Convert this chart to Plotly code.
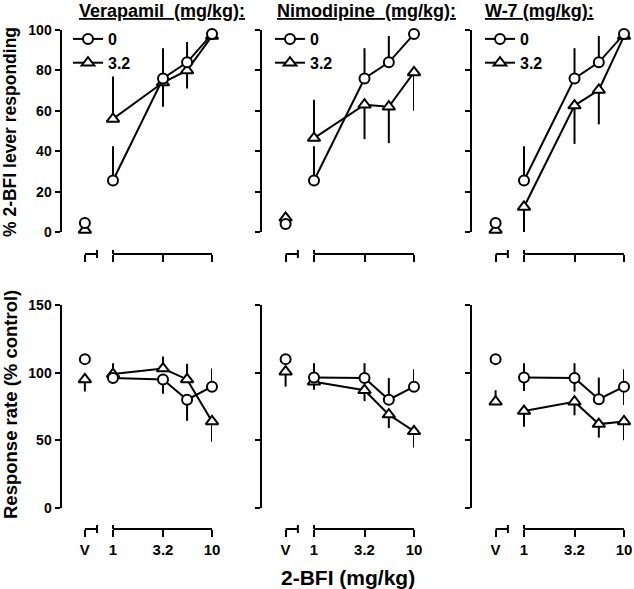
import plotly.graph_objects as go

W, H = 634, 589

# ---------------- data ----------------
titles = ["Verapamil\u00a0\u00a0(mg/kg):", "Nimodipine\u00a0\u00a0(mg/kg):", "W-7 (mg/kg):"]
doses = [1, 3.2, 5.6, 10]
V_X = 0.52          # position used for the vehicle (V) point
V_BREAK = 0.69      # end of the short vehicle axis segment
x_tickvals = [V_X, 1, 3.2, 10]
x_ticktext = ["V", "1", "3.2", "10"]
legend_names = ["0", "3.2"]

# top row: % 2-BFI lever responding
top_ctrl_v = [4.4, 4.0, 4.4]
top_ctrl = [[25.5, 76, 84, 98], [25.5, 76, 84, 98], [25.5, 76, 84, 98]]
top_ctrl_up = [[17, 15, 10, 0], [17, 15, 13, 0], [17, 15, 13, 0]]
top_ctrl_dn = [[0, 0, 0, 0], [0, 0, 0, 0], [0, 0, 0, 0]]
top_drug_v = [1.0, 7.0, 1.0]
top_drug = [[56, 74, 80, 97], [46.5, 63, 62, 79], [12.4, 62.6, 70.3, 97]]
top_drug_up = [[21, 0, 0, 0], [19, 0, 0, 0], [0, 0, 0, 0]]
top_drug_dn = [[0, 12, 9, 0], [0, 17, 18, 19], [12.4, 19, 17, 0]]

# bottom row: response rate (% control)
bot_ctrl_v = [110, 110, 110]
bot_ctrl = [[96, 95, 80, 89.6], [96.5, 96, 80, 89.6], [96.5, 96, 80.4, 89.6]]
bot_ctrl_up = [[0, 0, 0, 13.5], [10.5, 11, 16, 13], [10.5, 11, 16, 13]]
bot_ctrl_dn = [[0, 10.5, 15.5, 0], [0, 0, 0, 0], [10, 10, 0, 13.5]]
bot_drug_v = [95, 100.7, 78.5]
bot_drug_v_up = [0, 0, 8.5]
bot_drug_v_dn = [9, 11, 0]
bot_drug = [[99, 103, 95, 64], [93.3, 87, 69, 56.7], [71.6, 78.5, 62, 64]]
bot_drug_up = [[8, 9, 11.5, 0], [0, 0, 0, 0], [0, 0, 0, 0]]
bot_drug_dn = [[0, 0, 0, 15], [6, 8, 10, 12], [11.5, 10, 10, 14]]

top_ticks = [0, 20, 40, 60, 80, 100]
bot_ticks = [0, 50, 100, 150]

# ---------------- layout geometry (pixels) ----------------
x_dom_px = [(61.5, 212), (262, 414), (472, 624)]
top_y_px = (232, 30)
bot_y_px = (508, 305)
top_xaxis_px = 254
bot_xaxis_px = 529

FONT = "Arial, Liberation Sans, Helvetica, sans-serif"


def px(x):
    return x / W


def py(y):
    return 1 - y / H


fig = go.Figure()


def err(up, dn):
    return dict(type="data", symmetric=False, array=up, arrayminus=dn,
                thickness=2, width=0, color="black")


circle = dict(symbol="circle", size=10, color="white", line=dict(color="black", width=2))
tri = dict(symbol="triangle-up", size=11, color="white", line=dict(color="black", width=2))

shapes = []
annotations = []
layout = {}

for p in range(3):
    for row in range(2):
        idx = p + 1 + 3 * row
        xa = "x" if idx == 1 else f"x{idx}"
        ya = "y" if idx == 1 else f"y{idx}"
        if row == 0:
            cv, c, cu, cd = top_ctrl_v[p], top_ctrl[p], top_ctrl_up[p], top_ctrl_dn[p]
            dv, d, du, dd = top_drug_v[p], top_drug[p], top_drug_up[p], top_drug_dn[p]
            dvu, dvd = 0, 0
        else:
            cv, c, cu, cd = bot_ctrl_v[p], bot_ctrl[p], bot_ctrl_up[p], bot_ctrl_dn[p]
            dv, d, du, dd = bot_drug_v[p], bot_drug[p], bot_drug_up[p], bot_drug_dn[p]
            dvu, dvd = bot_drug_v_up[p], bot_drug_v_dn[p]
        leg = "legend" if p == 0 else f"legend{p + 1}"
        show = row == 0
        # drug (triangle) first so circles sit on top
        fig.add_trace(go.Scatter(x=[V_X], y=[dv], mode="markers", marker=tri,
                                 error_y=err([dvu], [dvd]), showlegend=False,
                                 cliponaxis=False, xaxis=xa, yaxis=ya, hoverinfo="skip"))
        fig.add_trace(go.Scatter(x=doses, y=d, mode="lines+markers", marker=tri,
                                 line=dict(color="black", width=2),
                                 error_y=err(du, dd), name=legend_names[1],
                                 showlegend=show, legend=leg, legendrank=2,
                                 cliponaxis=False, xaxis=xa, yaxis=ya))
        fig.add_trace(go.Scatter(x=[V_X], y=[cv], mode="markers", marker=circle,
                                 showlegend=False, cliponaxis=False,
                                 xaxis=xa, yaxis=ya, hoverinfo="skip"))
        fig.add_trace(go.Scatter(x=doses, y=c, mode="lines+markers", marker=circle,
                                 line=dict(color="black", width=2),
                                 error_y=err(cu, cd), name=legend_names[0],
                                 showlegend=show, legend=leg, legendrank=1,
                                 cliponaxis=False, xaxis=xa, yaxis=ya))

        ydom = top_y_px if row == 0 else bot_y_px
        axis_px = top_xaxis_px if row == 0 else bot_xaxis_px
        layout["xaxis" if idx == 1 else f"xaxis{idx}"] = dict(
            domain=[px(x_dom_px[p][0]), px(x_dom_px[p][1])],
            type="log", range=[-0.52, 1.0],
            anchor="free", position=py(axis_px),
            showline=False, showgrid=False, zeroline=False,
            tickmode="array", tickvals=x_tickvals, ticktext=x_ticktext,
            ticks="outside", ticklen=7, tickwidth=2, tickcolor="black",
            showticklabels=(row == 1), automargin=False,
            tickfont=dict(family=FONT, size=15, color="black", weight="bold"),
        )
        layout["yaxis" if idx == 1 else f"yaxis{idx}"] = dict(
            domain=[py(ydom[0]), py(ydom[1])],
            anchor=xa,
            range=[0, 100] if row == 0 else [0, 150],
            tickmode="array", tickvals=top_ticks if row == 0 else bot_ticks,
            showline=True, linewidth=2, linecolor="black",
            ticks="outside", ticklen=5, tickwidth=2, tickcolor="black",
            showgrid=False, zeroline=False, automargin=False,
            showticklabels=(p == 0),
            tickfont=dict(family=FONT, size=14, color="black", weight="bold"),
        )
        # detached x-axis segments
        ay = py(axis_px)
        t = 4 / H
        line = dict(color="black", width=2)
        shapes += [
            dict(type="line", xref=xa, yref="paper", x0=1, x1=10, y0=ay, y1=ay, line=line),
            dict(type="line", xref=xa, yref="paper", x0=V_X, x1=V_BREAK, y0=ay, y1=ay, line=line),
            dict(type="line", xref=xa, yref="paper", x0=1, x1=1, y0=ay, y1=ay + t, line=line),
            dict(type="line", xref=xa, yref="paper", x0=V_BREAK, x1=V_BREAK, y0=ay - t, y1=ay + t, line=line),
        ]

    annotations.append(dict(
        text=f"<u>{titles[p]}</u>", xref="paper", yref="paper",
        x=px([77, 275, 483][p]), y=py(11), xanchor="left", yanchor="middle",
        showarrow=False, font=dict(family=FONT, size=18, color="black", weight="bold")))
    layout["legend" if p == 0 else f"legend{p + 1}"] = dict(
        x=px([68, 270, 480][p]), y=py(22), xanchor="left", yanchor="top",
        bgcolor="rgba(0,0,0,0)", borderwidth=0, tracegroupgap=0,
        font=dict(family=FONT, size=16, color="black", weight="bold"),
        itemwidth=30)

annotations += [
    dict(text="% 2-BFI lever responding", xref="paper", yref="paper",
         x=px(10), y=py(132), textangle=-90, showarrow=False,
         xanchor="center", yanchor="middle",
         font=dict(family=FONT, size=17.5, color="black", weight="bold")),
    dict(text="Response rate (% control)", xref="paper", yref="paper",
         x=px(10), y=py(405), textangle=-90, showarrow=False,
         xanchor="center", yanchor="middle",
         font=dict(family=FONT, size=18.5, color="black", weight="bold")),
    dict(text="2-BFI (mg/kg)", xref="paper", yref="paper",
         x=px(348), y=py(577), showarrow=False, xanchor="center", yanchor="middle",
         font=dict(family=FONT, size=21, color="black", weight="bold")),
]

fig.update_layout(
    width=W, height=H, autosize=False,
    margin=dict(l=0, r=0, t=0, b=0, pad=0, autoexpand=False),
    paper_bgcolor="white", plot_bgcolor="white",
    font=dict(family=FONT, color="black"),
    shapes=shapes, annotations=annotations,
    **layout,
)

fig.write_html(
    "out.html",
    config={"displayModeBar": False},
    post_script="document.body.style.margin='0';document.body.style.overflow='hidden';",
)
